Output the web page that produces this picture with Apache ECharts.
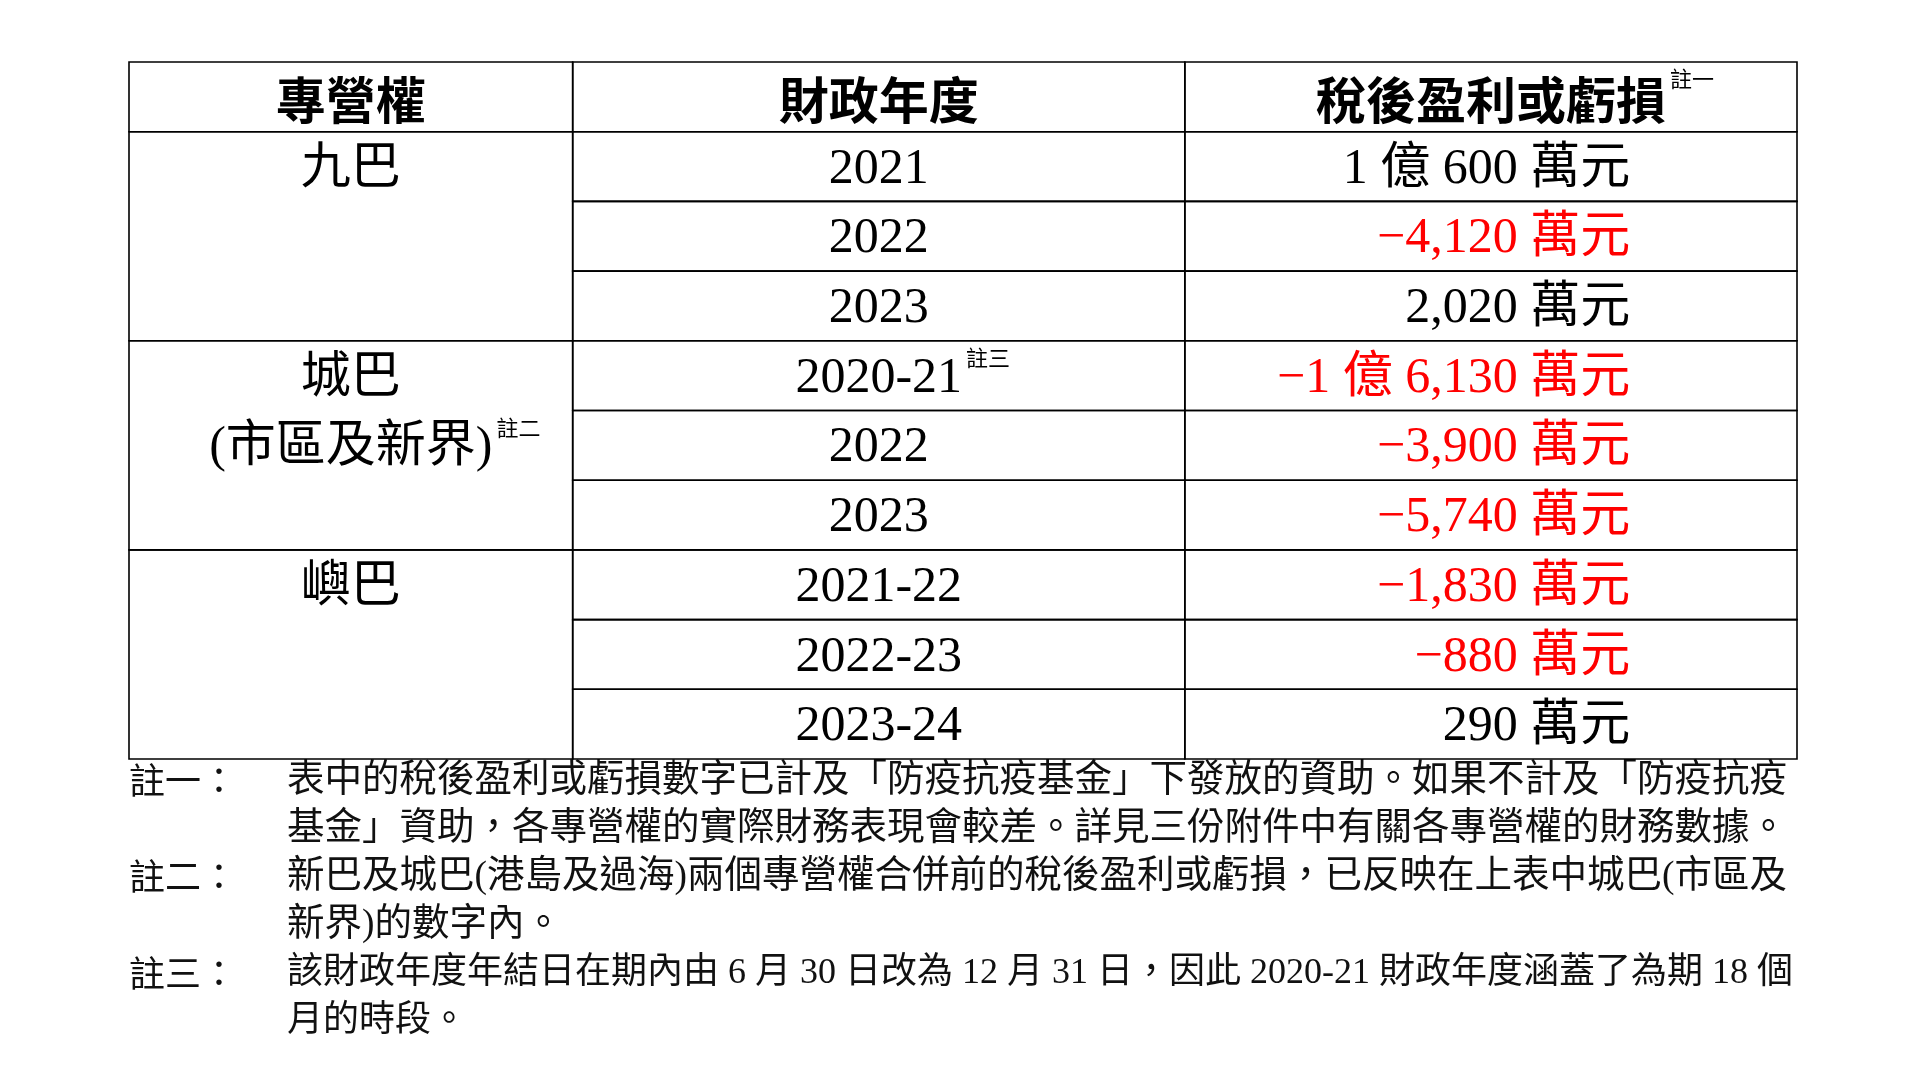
<!DOCTYPE html>
<html>
<head>
<meta charset="utf-8">
<script src="https://cdn.jsdelivr.net/npm/echarts@6/dist/echarts.min.js"></script>
<style>html,body{margin:0;background:#fff}#chart{width:1920px;height:1076px}</style>
</head>
<body>
<div id="chart"></div>
<script>
// 表格資料
var headers = ['專營權', '財政年度', '稅後盈利或虧損'];
var headerNotes = ['', '', '註一'];
var franchises = ['九巴', '城巴', '嶼巴'];
var franchiseRows = [3, 3, 3];
var franchiseLines = [['九巴'], ['城巴', '(市區及新界)'], ['嶼巴']];
var franchiseNotes = [[''], ['', '註二'], ['']];
var years = ['2021', '2022', '2023', '2020-21', '2022', '2023', '2021-22', '2022-23', '2023-24'];
var yearNotes = ['', '', '', '註三', '', '', '', '', ''];
var profits = ['1 億 600 萬元', '−4,120 萬元', '2,020 萬元', '−1 億 6,130 萬元', '−3,900 萬元',
    '−5,740 萬元', '−1,830 萬元', '−880 萬元', '290 萬元'];
var notes = [
    ['註一：', ['表中的稅後盈利或虧損數字已計及「防疫抗疫基金」下發放的資助。如果不計及「防疫抗疫', '基金」資助，各專營權的實際財務表現會較差。詳見三份附件中有關各專營權的財務數據。']],
    ['註二：', ['新巴及城巴(港島及過海)兩個專營權合併前的稅後盈利或虧損，已反映在上表中城巴(市區及', '新界)的數字內。']],
    ['註三：', ['該財政年度年結日在期內由 6 月 30 日改為 12 月 31 日，因此 2020-21 財政年度涵蓋了為期 18 個', '月的時段。']]
];
var noteFontSizes = [37.5, 37.5, 36];

var colEdges = [0, 0.266, 0.633, 1];
var valueRight = 0.90;
var bodyFont = "'Liberation Serif','Noto Sans CJK TC',serif";
var measureCtx = document.createElement('canvas').getContext('2d');
function textWidth(t, font) { measureCtx.font = font; return measureCtx.measureText(t).width; }

// 建立儲存格
var cells = [];
headers.forEach(function (h, i) {
    cells.push({ value: [colEdges[i], colEdges[i + 1], 0, 1], lines: [h], sups: [headerNotes[i]], bold: true, color: '#000', align: 'center' });
});
var r = 1;
franchises.forEach(function (f, i) {
    cells.push({ value: [colEdges[0], colEdges[1], r, r + franchiseRows[i]], lines: franchiseLines[i], sups: franchiseNotes[i], color: '#000', align: 'center' });
    r += franchiseRows[i];
});
years.forEach(function (y, i) {
    cells.push({ value: [colEdges[1], colEdges[2], i + 1, i + 2], lines: [y], sups: [yearNotes[i]], color: '#000', align: 'center' });
    var neg = profits[i].charAt(0) === '−';
    cells.push({ value: [colEdges[2], colEdges[3], i + 1, i + 2], lines: [profits[i]], sups: [''], color: neg ? '#ff0000' : '#000', align: 'right' });
});

function renderCell(params, api) {
    var c = cells[params.dataIndex];
    var p0 = api.coord([api.value(0), api.value(2)]);
    var p1 = api.coord([api.value(1), api.value(3)]);
    var rowH = api.size([0, 1])[1];
    var children = [{
        type: 'rect',
        shape: { x: p0[0], y: p0[1], width: p1[0] - p0[0], height: p1[1] - p0[1] },
        style: { fill: 'none', stroke: '#000', lineWidth: 1.6 }
    }];
    var fs = c.bold ? 50 : 50;
    var font = (c.bold ? 'bold ' : '') + fs + 'px ' + (c.bold ? "'Noto Sans CJK TC'" : bodyFont);
    c.lines.forEach(function (line, k) {
        var cy = p0[1] + rowH * (k + 0.5) + 3;
        var x = c.align === 'center' ? (p0[0] + p1[0]) / 2 : api.coord([valueRight, 0])[0];
        children.push({
            type: 'text',
            style: {
                x: x, y: cy, text: line, fill: c.color, align: c.align, verticalAlign: 'middle',
                fontSize: fs, fontWeight: c.bold ? 'bold' : 'normal', fontFamily: c.bold ? "'Noto Sans CJK TC'" : bodyFont
            }
        });
        var sup = c.sups[k];
        if (sup) {
            var w = textWidth(line, font);
            children.push({
                type: 'text',
                style: {
                    x: x + w / 2 + 4, y: cy - fs * 0.42, text: sup, fill: '#000', align: 'left', verticalAlign: 'middle',
                    fontSize: 22, fontFamily: "'Noto Sans CJK TC'"
                }
            });
        }
    });
    return { type: 'group', children: children };
}

// 註釋
var graphics = [];
var noteY = 784;
notes.forEach(function (n, i) {
    graphics.push({ type: 'text', left: 129, top: noteY - 22, style: { text: n[0], fontSize: 36, fontFamily: "'Noto Sans CJK TC'", fill: '#111' } });
    n[1].forEach(function (line) {
        graphics.push({ type: 'text', left: 287, top: noteY - 22, style: { text: line, fontSize: noteFontSizes[i], fontFamily: bodyFont, fill: '#111' } });
        noteY += 48.3;
    });
});

var chart = echarts.init(document.getElementById('chart'));
chart.setOption({
    animation: false,
    grid: { left: 129, top: 62, width: 1668, height: 697 },
    xAxis: { type: 'value', min: 0, max: 1, show: false },
    yAxis: { type: 'value', min: 0, max: 10, inverse: true, show: false },
    graphic: graphics,
    series: [{
        type: 'custom',
        renderItem: renderCell,
        encode: { x: [0, 1], y: [2, 3] },
        data: cells.map(function (c) { return { value: c.value }; })
    }]
});
</script>
</body>
</html>
